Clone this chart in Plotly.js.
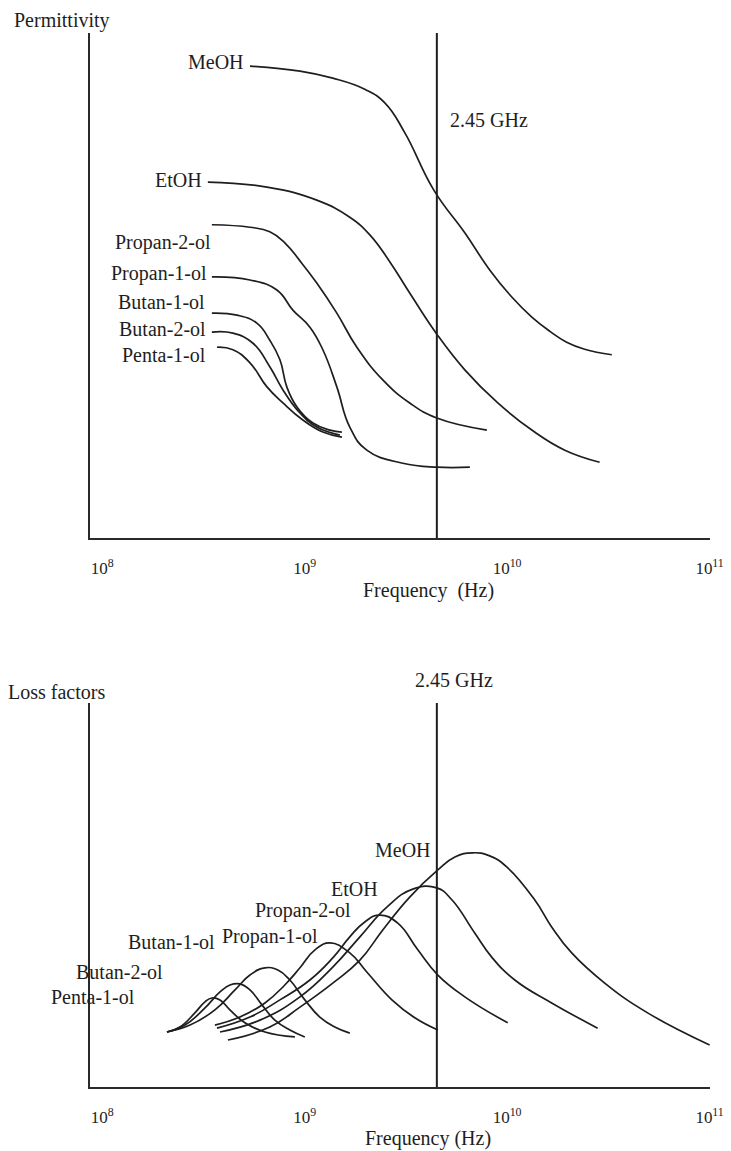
<!DOCTYPE html>
<html>
<head>
<meta charset="utf-8">
<script src="https://cdn.plot.ly/plotly-3.0.1.min.js"></script>
<style>
  html, body { margin: 0; padding: 0; background: #ffffff; }
  #chart { width: 731px; height: 1151px; }
</style>
</head>
<body>
<div id="chart"></div>
<script>
// ---- Data (x = log10 frequency in Hz, y = arbitrary units) ----
const seriesNames = ["MeOH", "EtOH", "Propan-2-ol", "Propan-1-ol", "Butan-1-ol", "Butan-2-ol", "Penta-1-ol"];

// Permittivity (upper panel)
const permMeOH_logf = [8.730, 8.977, 9.139, 9.297, 9.396, 9.495, 9.638, 9.791, 9.914, 10.023, 10.122, 10.210, 10.294, 10.383, 10.517];
const permMeOH_val  = [94.0, 93.0, 91.6, 89.4, 86.7, 80.7, 69.3, 60.8, 53.4, 48.0, 44.0, 41.2, 39.0, 37.6, 36.5];
const permEtOH_logf = [8.522, 8.814, 9.060, 9.223, 9.322, 9.421, 9.519, 9.653, 9.791, 9.954, 10.122, 10.285, 10.457];
const permEtOH_val  = [70.9, 69.9, 67.3, 63.9, 60.4, 55.0, 48.8, 40.6, 33.5, 26.9, 21.5, 17.5, 15.1];
const permProp2_logf = [8.542, 8.730, 8.828, 8.902, 8.977, 9.060, 9.159, 9.258, 9.386, 9.519, 9.653, 9.900];
const permProp2_val  = [62.4, 61.9, 61.0, 58.8, 55.2, 50.8, 44.8, 38.0, 31.5, 26.9, 23.9, 21.5];
const permProp1_logf = [8.542, 8.730, 8.863, 8.942, 9.026, 9.090, 9.159, 9.223, 9.307, 9.485, 9.653, 9.816];
const permProp1_val  = [52.0, 51.4, 49.4, 45.4, 42.0, 37.5, 30.1, 22.1, 17.5, 14.9, 14.1, 14.1];
const permBut1_logf = [8.542, 8.666, 8.764, 8.828, 8.878, 8.912, 8.962, 9.041, 9.125, 9.184];
const permBut1_val  = [44.8, 44.4, 42.8, 39.4, 35.5, 30.1, 26.1, 22.9, 21.5, 21.1];
const permBut2_logf = [8.542, 8.646, 8.745, 8.828, 8.893, 8.977, 9.060, 9.174];
const permBut2_val  = [41.0, 40.8, 38.8, 34.1, 29.5, 24.9, 22.1, 20.5];
const permPent_logf = [8.567, 8.646, 8.730, 8.814, 8.893, 8.991, 9.090, 9.184];
const permPent_val  = [38.0, 37.5, 34.9, 30.1, 26.9, 23.5, 21.1, 20.1];

// Loss factors (lower panel)
const lossMeOH_logf = [8.621, 8.828, 8.977, 9.139, 9.273, 9.386, 9.519, 9.658, 9.742, 9.830, 9.914, 9.998, 10.136, 10.220, 10.319, 10.482, 10.694, 11.000];
const lossMeOH_val  = [12.3, 15.7, 20.9, 27.2, 33.2, 41.1, 49.7, 56.8, 60.2, 61.3, 60.5, 57.6, 49.0, 41.9, 35.1, 27.2, 19.4, 11.0];
const lossEtOH_logf = [8.582, 8.779, 8.977, 9.139, 9.273, 9.406, 9.534, 9.653, 9.727, 9.840, 9.924, 10.038, 10.220, 10.447];
const lossEtOH_val  = [14.4, 17.5, 23.6, 31.4, 39.3, 47.1, 51.8, 52.1, 49.0, 40.3, 34.0, 28.0, 22.0, 15.4];
const lossProp2_logf = [8.567, 8.730, 8.878, 9.026, 9.139, 9.223, 9.297, 9.371, 9.460, 9.559, 9.658, 9.791, 10.003];
const lossProp2_val  = [15.4, 18.3, 22.8, 28.0, 33.8, 39.3, 43.2, 45.0, 42.9, 35.9, 29.3, 23.6, 16.8];
const lossProp1_logf = [8.557, 8.680, 8.804, 8.902, 8.977, 9.051, 9.125, 9.223, 9.307, 9.431, 9.544, 9.658];
const lossProp1_val  = [16.2, 18.3, 22.0, 26.7, 31.2, 35.9, 37.7, 35.1, 30.1, 22.8, 18.1, 14.9];
const lossBut1_logf = [8.320, 8.434, 8.557, 8.656, 8.730, 8.804, 8.868, 8.927, 9.001, 9.075, 9.149, 9.223];
const lossBut1_val  = [14.4, 16.2, 20.2, 25.4, 29.3, 31.2, 30.6, 28.0, 22.8, 18.3, 15.7, 14.1];
const lossBut2_logf = [8.320, 8.409, 8.508, 8.582, 8.631, 8.680, 8.730, 8.789, 8.853, 8.927, 9.001];
const lossBut2_val  = [14.4, 16.2, 20.7, 24.9, 26.7, 27.0, 25.4, 21.5, 17.5, 14.9, 13.1];
const lossPent_logf = [8.320, 8.384, 8.458, 8.508, 8.542, 8.582, 8.631, 8.705, 8.804, 8.952];
const lossPent_val  = [14.4, 15.7, 19.4, 22.3, 23.3, 22.8, 20.2, 16.8, 14.4, 13.1];

// Marker line (drawn position of the "2.45 GHz" line in the sketch, log10 Hz)
const markerLogf = 9.653;
const markerLabel = "2.45 GHz";

// Axis ticks
const tickLogf = [8, 9, 10, 11];
const tickLabels = ["10<sup>8</sup>", "10<sup>9</sup>", "10<sup>10</sup>", "10<sup>11</sup>"];

// Label anchor positions (log10 Hz, value)
const permLabelLogf = [8.710, 8.503, 8.547, 8.527, 8.517, 8.522, 8.522];
const permLabelVal  = [94.8, 71.3, 58.8, 52.6, 47.0, 41.6, 36.5];
const lossLabelLogf = [9.633, 9.371, 9.238, 9.075, 8.567, 8.310, 8.172];
const lossLabelVal  = [62.0, 51.8, 46.3, 39.3, 38.0, 30.1, 23.6];

// ---- Build traces ----
const FONT = "Liberation Serif, Times New Roman, serif";
const INK = "#1e1e1e";
const LBL = 20;
const toHz = a => a.map(v => Math.pow(10, v));

function curve(logf, vals, xa, ya) {
  return {
    type: "scatter", mode: "lines",
    x: toHz(logf), y: vals, xaxis: xa, yaxis: ya,
    line: {color: INK, width: 1.7, shape: "spline", smoothing: 1.3},
    hoverinfo: "skip", showlegend: false
  };
}

const permSeries = [
  [permMeOH_logf, permMeOH_val], [permEtOH_logf, permEtOH_val], [permProp2_logf, permProp2_val],
  [permProp1_logf, permProp1_val], [permBut1_logf, permBut1_val], [permBut2_logf, permBut2_val],
  [permPent_logf, permPent_val]
];
const lossSeries = [
  [lossMeOH_logf, lossMeOH_val], [lossEtOH_logf, lossEtOH_val], [lossProp2_logf, lossProp2_val],
  [lossProp1_logf, lossProp1_val], [lossBut1_logf, lossBut1_val], [lossBut2_logf, lossBut2_val],
  [lossPent_logf, lossPent_val]
];

const TOP_MAX = 100.6, BOT_MAX = 100.5;
const traces = [];
permSeries.forEach(s => traces.push(curve(s[0], s[1], "x", "y")));
lossSeries.forEach(s => traces.push(curve(s[0], s[1], "x2", "y2")));
// vertical marker lines
traces.push({type: "scatter", mode: "lines", x: toHz([markerLogf, markerLogf]), y: [0, TOP_MAX],
  xaxis: "x", yaxis: "y", line: {color: INK, width: 2}, hoverinfo: "skip", showlegend: false});
traces.push({type: "scatter", mode: "lines", x: toHz([markerLogf, markerLogf]), y: [0, BOT_MAX],
  xaxis: "x2", yaxis: "y2", line: {color: INK, width: 2}, hoverinfo: "skip", showlegend: false});

// ---- Annotations ----
const ann = [];
function txt(text, x, y, xr, yr, xanchor, size) {
  ann.push({text: text, x: x, y: y, xref: xr, yref: yr, xanchor: xanchor, yanchor: "middle",
    showarrow: false, font: {family: FONT, size: size || LBL, color: INK}});
}
seriesNames.forEach((n, i) => txt(n, permLabelLogf[i], permLabelVal[i], "x", "y", "right"));
seriesNames.forEach((n, i) => txt(n, lossLabelLogf[i], lossLabelVal[i], "x2", "y2", "right"));
txt(markerLabel, 9.707, 83.3, "x", "y", "left");
// texts outside the axis ranges: placed in paper coordinates
txt(markerLabel, 0.5871, 0.3861, "paper", "paper", "center");
txt("Permittivity", -0.1258, 1.0123, "paper", "paper", "left");
txt("Loss factors", -0.1355, 0.3748, "paper", "paper", "left");
txt("Frequency&nbsp;&nbsp;(Hz)", 0.5452, 0.4715, "paper", "paper", "center");
txt("Frequency (Hz)", 0.5452, -0.0484, "paper", "paper", "center");

function xax(domainAnchor) {
  return {
    type: "log", range: [7.94, 11.002], anchor: domainAnchor,
    showline: true, linecolor: "#2a2a2a", linewidth: 2,
    showgrid: false, zeroline: false, ticks: "",
    tickvals: toHz(tickLogf), ticktext: tickLabels,
    ticklabelstandoff: 14,
    tickfont: {family: FONT, size: 17, color: INK}
  };
}
function yax(range, domain, anchor) {
  return {
    range: range, domain: domain, anchor: anchor,
    showline: true, linecolor: "#2a2a2a", linewidth: 2,
    showgrid: false, zeroline: false, showticklabels: false, ticks: ""
  };
}

const layout = {
  width: 731, height: 1151,
  margin: {l: 90, r: 21, t: 33, b: 64},
  paper_bgcolor: "#ffffff", plot_bgcolor: "#ffffff",
  showlegend: false,
  xaxis: xax("y"),
  yaxis: yax([0, TOP_MAX], [0.52087, 1], "x"),
  xaxis2: xax("y2"),
  yaxis2: yax([0, BOT_MAX], [0, 0.36433], "x2"),
  annotations: ann
};

Plotly.newPlot("chart", traces, layout, {staticPlot: true, displayModeBar: false});
</script>
</body>
</html>
